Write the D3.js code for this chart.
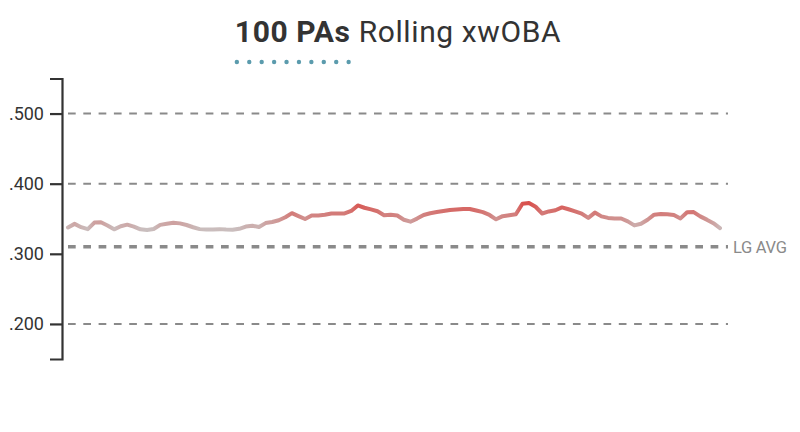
<!DOCTYPE html>
<html>
<head>
<meta charset="utf-8">
<script src="https://cdn.jsdelivr.net/npm/d3@7/dist/d3.min.js"></script>
<style>
  html, body { margin: 0; padding: 0; background: #fff; }
  svg { display: block; font-family: Roboto, sans-serif; }
</style>
</head>
<body>
<svg id="chart" width="800" height="432"></svg>
<script>
// ---- data ----
const titleBold = "100 PAs";
const titleRest = "Rolling xwOBA";
const yTicks = [0.2, 0.3, 0.4, 0.5];
const yTickLabels = [".200", ".300", ".400", ".500"];
const gridValues = [0.2, 0.4, 0.5];
const lgAvg = 0.310;
const lgAvgLabel = "LG AVG";
const xwoba = [
  0.3376, 0.3427, 0.3380, 0.3351, 0.3446, 0.3449, 0.3403, 0.3349, 0.3394, 0.3416,
  0.3388, 0.3349, 0.3339, 0.3353, 0.3413, 0.3428, 0.3443, 0.3434, 0.3411, 0.3379,
  0.3352, 0.3345, 0.3347, 0.3352, 0.3345, 0.3343, 0.3357, 0.3389, 0.3400, 0.3382,
  0.3438, 0.3453, 0.3479, 0.3522, 0.3580, 0.3538, 0.3496, 0.3545, 0.3547, 0.3557,
  0.3575, 0.3576, 0.3576, 0.3611, 0.3690, 0.3657, 0.3633, 0.3607, 0.3551, 0.3557,
  0.3546, 0.3486, 0.3458, 0.3502, 0.3554, 0.3579, 0.3595, 0.3610, 0.3626, 0.3632,
  0.3639, 0.3639, 0.3617, 0.3594, 0.3554, 0.3492, 0.3537, 0.3551, 0.3564, 0.3714,
  0.3725, 0.3671, 0.3575, 0.3604, 0.3621, 0.3662, 0.3635, 0.3606, 0.3574, 0.3512,
  0.3588, 0.3534, 0.3512, 0.3504, 0.3504, 0.3463, 0.3405, 0.3428, 0.3486, 0.3558,
  0.3567, 0.3564, 0.3554, 0.3505, 0.3593, 0.3595, 0.3534, 0.3487, 0.3437, 0.3367
];
const colorDomain = [0.333, 0.372];
const colorRange = ["#c9c2c2", "#d9514d"];

// ---- chart ----
const svg = d3.select("#chart");
const x = d3.scaleLinear().domain([0, xwoba.length - 1]).range([68, 720]);
const y = d3.scaleLinear().domain([0.15, 0.55]).range([359, 78.5]);
const color = d3.scaleLinear().domain(colorDomain).range(colorRange).clamp(true);

// title
const title = svg.append("text")
  .attr("x", 398).attr("y", 42)
  .attr("text-anchor", "middle")
  .attr("font-size", 30)
  .attr("letter-spacing", 0.6)
  .attr("fill", "#333");
title.append("tspan").attr("font-weight", 700).text(titleBold);
title.append("tspan").attr("font-weight", 400).text(" " + titleRest);

// dots under bold part
const boldNode = title.node().firstChild;
let bx0 = 233, bx1 = 348;
try {
  const s = boldNode.getStartPositionOfChar(0);
  const e = boldNode.getEndPositionOfChar(titleBold.length - 1);
  bx0 = s.x; bx1 = e.x;
} catch (err) {}
const nDots = 10;
const dotX = d3.scaleLinear().domain([0, nDots - 1]).range([bx0 + 2, bx1 - 2]);
svg.append("g").selectAll("circle")
  .data(d3.range(nDots))
  .join("circle")
  .attr("cx", d => dotX(d))
  .attr("cy", 62)
  .attr("r", 2.2)
  .attr("fill", "#5b9bad");

// gridlines
svg.append("g").selectAll("line")
  .data(gridValues)
  .join("line")
  .attr("x1", 68).attr("x2", 728)
  .attr("y1", d => y(d)).attr("y2", d => y(d))
  .attr("stroke", "#8a8a8a")
  .attr("stroke-width", 2)
  .attr("stroke-dasharray", "7.7,7.6");

// league average
svg.append("line")
  .attr("x1", 67).attr("x2", 728)
  .attr("y1", y(lgAvg)).attr("y2", y(lgAvg))
  .attr("stroke", "#8a8a8a")
  .attr("stroke-width", 3.5)
  .attr("stroke-dasharray", "7.7,7.6")
  .attr("stroke-dashoffset", -1);
svg.append("text")
  .attr("x", 733).attr("y", y(lgAvg) + 6)
  .attr("font-size", 16.5)
  .attr("letter-spacing", -0.3)
  .attr("fill", "#8a8a8a")
  .text(lgAvgLabel);

// y axis
const axis = d3.axisLeft(y)
  .tickValues(yTicks)
  .tickFormat((d, i) => yTickLabels[i])
  .tickSize(12)
  .tickSizeOuter(12)
  .tickPadding(6);
const gAxis = svg.append("g").attr("transform", "translate(62,0)").call(axis);
gAxis.select(".domain").attr("stroke", "#333").attr("stroke-width", 2.2);
gAxis.selectAll(".tick line").attr("stroke", "#333").attr("stroke-width", 2.2);
gAxis.selectAll(".tick text")
  .attr("font-family", "Roboto, sans-serif")
  .attr("font-size", 18)
  .attr("fill", "#333");

// gradient line
const defs = svg.append("defs");
const grad = defs.append("linearGradient")
  .attr("id", "lineGrad")
  .attr("gradientUnits", "userSpaceOnUse")
  .attr("x1", x(0)).attr("x2", x(xwoba.length - 1))
  .attr("y1", 0).attr("y2", 0);
grad.selectAll("stop")
  .data(xwoba)
  .join("stop")
  .attr("offset", (d, i) => i / (xwoba.length - 1))
  .attr("stop-color", d => color(d));

const line = d3.line().x((d, i) => x(i)).y(d => y(d));
svg.append("path")
  .datum(xwoba)
  .attr("d", line)
  .attr("fill", "none")
  .attr("stroke", "url(#lineGrad)")
  .attr("stroke-width", 4)
  .attr("stroke-linejoin", "round")
  .attr("stroke-linecap", "round");
</script>
</body>
</html>
